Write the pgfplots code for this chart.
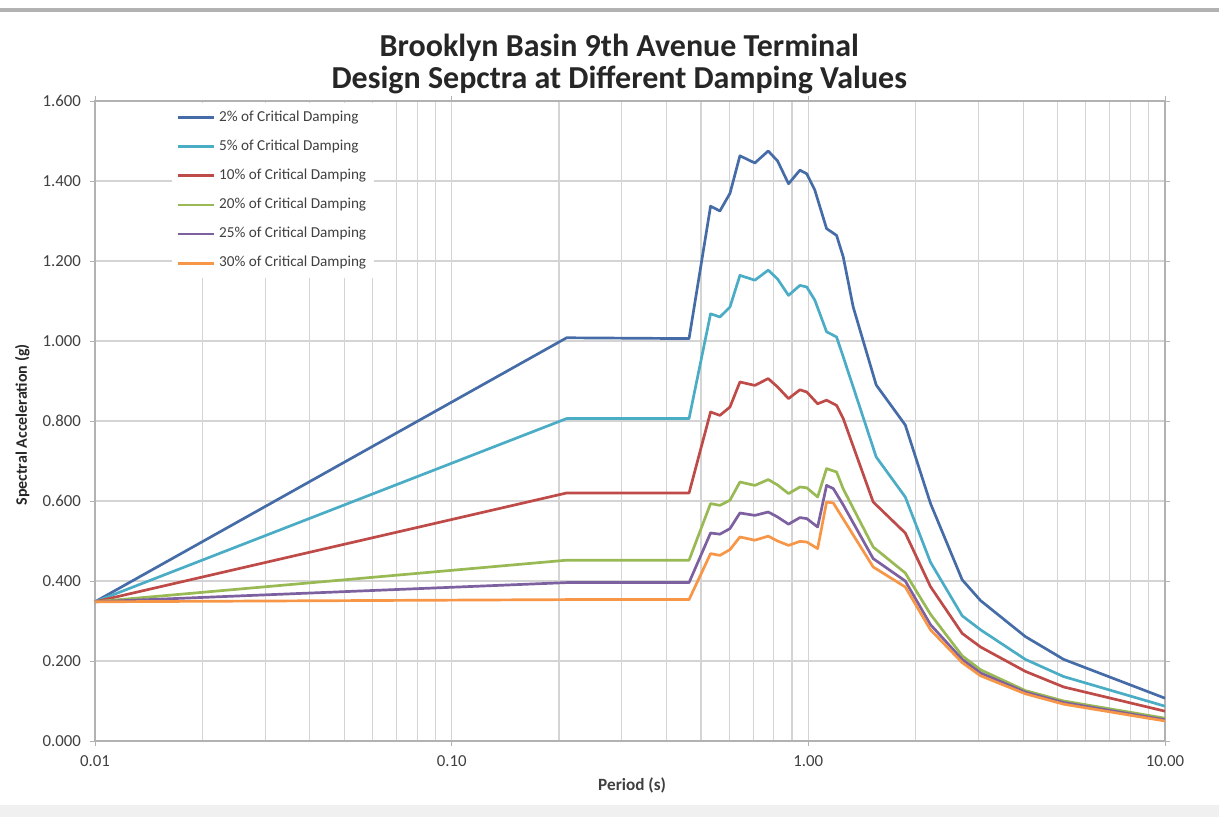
\documentclass[border=0pt]{standalone}
\usepackage{pgfplots}
\pgfplotsset{compat=1.18}
\usepackage{fontspec}
\setmainfont{Carlito}
\definecolor{c2}{RGB}{70,108,168}
\definecolor{c5}{RGB}{75,172,198}
\definecolor{c10}{RGB}{190,75,72}
\definecolor{c20}{RGB}{152,185,84}
\definecolor{c25}{RGB}{125,96,160}
\definecolor{c30}{RGB}{247,150,70}
\definecolor{gridc}{RGB}{212,212,212}
\definecolor{tickc}{RGB}{64,64,64}
\begin{document}
\begin{tikzpicture}
\fill[black!6] (0pt,0pt) rectangle (609.5pt,6pt);
\draw[line width=2pt, black!30] (0pt,403.5pt) -- (609.5pt,403.5pt);
\begin{axis}[
  at={(47.5pt,38pt)}, anchor=south west,
  scale only axis, width=535pt, height=320pt,
  xmode=log, log basis x=10,
  xmin=0.01, xmax=10, ymin=0, ymax=1.6,
  xtick={0.01,0.1,1,10}, xticklabels={0.01,0.10,1.00,10.00},
  minor xtick={0.02,0.03,0.04,0.05,0.06,0.07,0.08,0.09,0.2,0.3,0.4,0.5,0.6,0.7,0.8,0.9,2,3,4,5,6,7,8,9},
  ytick={0,0.2,0.4,0.6,0.8,1.0,1.2,1.4,1.6},
  yticklabel={\pgfmathprintnumber[fixed,fixed zerofill,precision=3]{\tick}},
  /pgf/number format/assume math mode=true,
  xmajorgrids, xminorgrids, ymajorgrids,
  grid style={gridc, line width=0.55pt},
  minor grid style={gridc, line width=0.55pt},
  axis line style={black!30, line width=0.8pt},
  tick align=outside, major tick length=2.5pt, minor tick length=0pt,
  tick style={black!30},
  ticklabel style={font=\fontsize{8.4}{9.5}\selectfont, text=tickc},
  xticklabel style={yshift=-1.5pt},
  yticklabel style={xshift=-1pt},
  xlabel={\textbf{Period (s)}},
  xlabel style={font=\fontsize{8.6}{9.5}\selectfont, text=tickc, at={(axis description cs:0.502,-0.069)}, anchor=center},
  ylabel={\textbf{Spectral Acceleration (g)}},
  ylabel style={font=\fontsize{8}{9}\selectfont, text=black!85, at={(axis description cs:-0.068,0.494)}, anchor=center, rotate=0},
  title={\textbf{Brooklyn Basin 9th Avenue Terminal}\\\textbf{Design Sepctra at Different Damping Values}},
  title style={font=\fontsize{16}{16}\selectfont, text=black!85, align=center, at={(axis description cs:0.49,1.039)}, anchor=center, yshift=0pt},
  legend style={at={(axis description cs:0.072,0.998)}, anchor=north west, draw=none, fill=white,
    font=\fontsize{7.6}{8.5}\selectfont, text=tickc, row sep=3.8pt, inner sep=2pt},
  legend cell align=left,
  legend image code/.code={\draw[#1] (0pt,0pt) -- (18pt,0pt);},
  every axis plot/.append style={line width=1.35pt, line join=round},
]
\addplot[c2] coordinates {
(0.01,0.348) (0.21,1.008) (0.463,1.006) (0.532,1.337) (0.565,1.325) (0.603,1.369) (0.643,1.463) (0.708,1.445) (0.772,1.475) (0.82,1.45) (0.88,1.393) (0.947,1.427) (0.99,1.418) (1.043,1.377) (1.125,1.281) (1.2,1.264) (1.253,1.21) (1.336,1.085) (1.55,0.89) (1.87,0.79) (2.2,0.594) (2.7,0.403) (3.04,0.351) (4.06,0.261) (5.2,0.204) (10,0.107)};
\addlegendentry{2\% of Critical Damping}
\addplot[c5] coordinates {
(0.01,0.348) (0.21,0.806) (0.463,0.806) (0.532,1.068) (0.565,1.06) (0.603,1.085) (0.643,1.164) (0.708,1.152) (0.772,1.177) (0.82,1.155) (0.88,1.114) (0.947,1.139) (0.99,1.135) (1.043,1.102) (1.125,1.023) (1.2,1.01) (1.253,0.96) (1.336,0.885) (1.55,0.71) (1.87,0.61) (2.2,0.447) (2.7,0.313) (3.04,0.278) (4.06,0.204) (5.2,0.161) (10,0.087)};
\addlegendentry{5\% of Critical Damping}
\addplot[c10] coordinates {
(0.01,0.348) (0.21,0.62) (0.463,0.62) (0.532,0.8225) (0.565,0.814) (0.603,0.835) (0.643,0.8975) (0.708,0.889) (0.772,0.906) (0.82,0.885) (0.88,0.856) (0.947,0.878) (0.99,0.8725) (1.062,0.843) (1.125,0.852) (1.2,0.839) (1.253,0.806) (1.52,0.5975) (1.87,0.52) (2.2,0.386) (2.7,0.269) (3.04,0.235) (4.06,0.174) (5.2,0.135) (10,0.0745)};
\addlegendentry{10\% of Critical Damping}
\addplot[c20] coordinates {
(0.01,0.348) (0.21,0.452) (0.463,0.452) (0.532,0.5935) (0.565,0.589) (0.603,0.602) (0.643,0.6475) (0.708,0.639) (0.772,0.6535) (0.82,0.64) (0.88,0.6185) (0.947,0.635) (0.99,0.633) (1.062,0.61) (1.125,0.681) (1.2,0.6725) (1.253,0.63) (1.52,0.485) (1.87,0.42) (2.2,0.317) (2.7,0.213) (3.04,0.178) (4.06,0.126) (5.2,0.10) (10,0.057)};
\addlegendentry{20\% of Critical Damping}
\addplot[c25] coordinates {
(0.01,0.348) (0.21,0.396) (0.463,0.396) (0.532,0.52) (0.565,0.517) (0.603,0.531) (0.643,0.57) (0.708,0.564) (0.772,0.5725) (0.82,0.56) (0.88,0.542) (0.947,0.5585) (0.99,0.556) (1.062,0.535) (1.125,0.639) (1.175,0.631) (1.253,0.59) (1.52,0.456) (1.87,0.40) (2.2,0.291) (2.7,0.204) (3.04,0.170) (4.06,0.122) (5.2,0.096) (10,0.053)};
\addlegendentry{25\% of Critical Damping}
\addplot[c30] coordinates {
(0.01,0.348) (0.21,0.3535) (0.463,0.3535) (0.532,0.4685) (0.565,0.464) (0.603,0.4785) (0.643,0.51) (0.708,0.502) (0.772,0.512) (0.82,0.50) (0.88,0.489) (0.947,0.499) (0.99,0.4975) (1.062,0.481) (1.125,0.5975) (1.175,0.595) (1.253,0.555) (1.52,0.435) (1.87,0.385) (2.2,0.278) (2.7,0.196) (3.04,0.163) (4.06,0.118) (5.2,0.092) (10,0.05)};
\addlegendentry{30\% of Critical Damping}
\end{axis}
\pgfresetboundingbox
\path[use as bounding box] (0pt,0pt) rectangle (609.5pt,408.5pt);
\end{tikzpicture}
\end{document}
